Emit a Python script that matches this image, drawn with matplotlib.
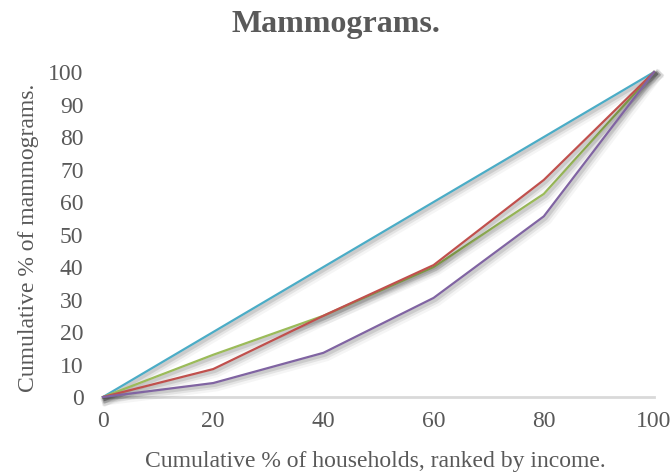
import matplotlib
matplotlib.use("Agg")
import matplotlib.pyplot as plt
import matplotlib.patheffects as pe

# Cumulative share of households (x) and of mammograms (y)
households = [0, 20, 40, 60, 80, 100]
equality = [0, 20, 40, 60, 80, 100]
series_green = [0, 13, 25, 40, 62.5, 100]
series_red = [0, 8.6, 25, 40.6, 66.8, 100]
series_purple = [0, 4.3, 13.6, 30.5, 55.6, 100]

x_ticks = [0, 20, 40, 60, 80, 100]
y_ticks = [0, 10, 20, 30, 40, 50, 60, 70, 80, 90, 100]

plt.rcParams['font.family'] = ['Liberation Serif', 'DejaVu Serif']
text_color = '#595959'

fig = plt.figure(figsize=(6.71, 4.74), dpi=100)
ax = fig.add_axes([0.1535, 0.1624, 0.8212, 0.6856])

# soft drop shadow under each line
shadow = [
    pe.SimpleLineShadow(offset=(2.5, -2.5), shadow_color='#000000', alpha=0.04, linewidth=7),
    pe.SimpleLineShadow(offset=(2.0, -2.0), shadow_color='#000000', alpha=0.07, linewidth=4.5),
    pe.SimpleLineShadow(offset=(1.5, -1.5), shadow_color='#000000', alpha=0.10, linewidth=2.5),
    pe.Normal(),
]

lines = [
    (equality, '#4bacc6'),
    (series_green, '#9bbb59'),
    (series_red, '#c0504d'),
    (series_purple, '#8064a2'),
]
for values, color in lines:
    ax.plot(households, values, color=color, linewidth=1.6,
            solid_joinstyle='miter', path_effects=shadow, clip_on=False)

ax.set_xlim(0, 100)
ax.set_ylim(0, 100)
ax.set_xticks(x_ticks)
ax.set_yticks(y_ticks)
ax.tick_params(axis='both', length=0, labelsize=17, colors=text_color)
ax.tick_params(axis='x', pad=10)
ax.tick_params(axis='y', pad=14)

for side in ['left', 'right', 'top']:
    ax.spines[side].set_visible(False)
ax.spines['bottom'].set_color('#d9d9d9')
ax.spines['bottom'].set_linewidth(2)
ax.spines['bottom'].set_zorder(0)

fig.text(0.559, 0.0148, 'Cumulative % of households, ranked by income.',
         ha='center', va='baseline', fontsize=17, color=text_color)
fig.text(0.043, 0.499, 'Cumulative % of mammograms.', ha='center', va='center',
         rotation=90, fontsize=17, color=text_color)
fig.text(0.5, 0.9325, 'Mammograms.', ha='center', va='baseline', fontsize=23,
         fontweight='bold', color=text_color)

fig.savefig('out.png', dpi=100)
